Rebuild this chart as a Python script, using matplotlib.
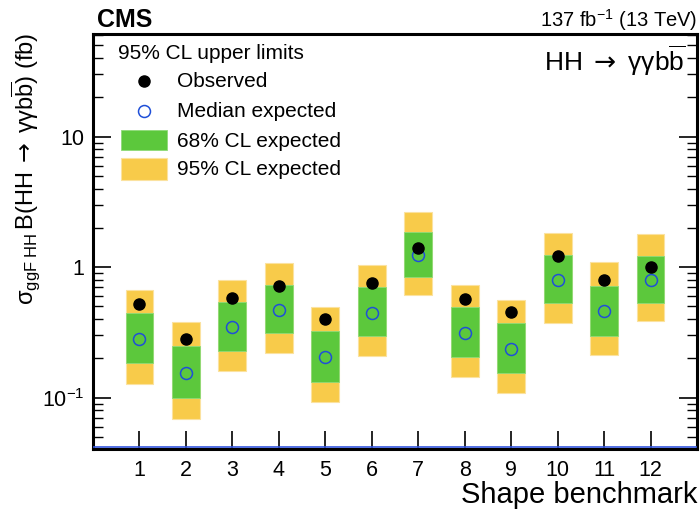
import matplotlib
matplotlib.use("Agg")
import matplotlib.pyplot as plt
from matplotlib.lines import Line2D
from matplotlib.patches import Rectangle
from matplotlib.ticker import FixedLocator, FixedFormatter, LogLocator, NullFormatter

plt.rcParams['font.family'] = ['Liberation Sans', 'DejaVu Sans']
plt.rcParams['mathtext.fontset'] = 'custom'
plt.rcParams['mathtext.rm'] = 'Liberation Sans'
plt.rcParams['mathtext.it'] = 'Liberation Sans:italic'
plt.rcParams['mathtext.bf'] = 'Liberation Sans:bold'
plt.rcParams['mathtext.sf'] = 'DejaVu Sans'

benchmarks = [1, 2, 3, 4, 5, 6, 7, 8, 9, 10, 11, 12]
observed = [0.523, 0.284, 0.581, 0.711, 0.403, 0.753, 1.39, 0.570, 0.451, 1.21, 0.794, 1.01]
expected = [0.281, 0.156, 0.347, 0.469, 0.206, 0.448, 1.24, 0.315, 0.238, 0.804, 0.461, 0.804]
exp_68_lo = [0.183, 0.0995, 0.227, 0.311, 0.133, 0.295, 0.838, 0.204, 0.154, 0.529, 0.298, 0.535]
exp_68_hi = [0.444, 0.251, 0.538, 0.727, 0.326, 0.702, 1.86, 0.492, 0.375, 1.24, 0.718, 1.22]
exp_95_lo = [0.128, 0.0686, 0.161, 0.221, 0.0932, 0.208, 0.609, 0.144, 0.109, 0.373, 0.212, 0.384]
exp_95_hi = [0.667, 0.382, 0.804, 1.07, 0.492, 1.04, 2.66, 0.736, 0.564, 1.84, 1.09, 1.79]

GREEN = '#5CC83C'
YELLOW = '#F8CB4A'
BLUE = '#1F4FD8'

W, H = 700, 517
fig = plt.figure(figsize=(7.0, 5.17), dpi=100)

def fx(x):
    return x / W

def fy(y):
    return 1 - y / H

ax = fig.add_axes([fx(93), fy(449), fx(697) - fx(93), fy(34) - fy(449)])
ax.set_yscale('log')
ax.set_xlim(0, 13)
ax.set_ylim(0.0405, 61)

ax.bar(benchmarks, [h - l for h, l in zip(exp_95_hi, exp_95_lo)], bottom=exp_95_lo,
       width=0.6, color=YELLOW, edgecolor='#FBE2A0', linewidth=0.8, zorder=2)
ax.bar(benchmarks, [h - l for h, l in zip(exp_68_hi, exp_68_lo)], bottom=exp_68_lo,
       width=0.6, color=GREEN, edgecolor='#8FDA78', linewidth=0.6, zorder=3)
ax.plot(benchmarks, expected, linestyle='none', marker='o', markersize=8.6,
        markerfacecolor='none', markeredgecolor=BLUE, markeredgewidth=1.1, zorder=4)
ax.plot(benchmarks, observed, linestyle='none', marker='o', markersize=8.0,
        color='black', zorder=5)

ax.axhline(0.0418, color='#3355DD', linewidth=1.2, zorder=6)

ax.xaxis.set_major_locator(FixedLocator(benchmarks))
ax.set_xticklabels([str(b) for b in benchmarks])
ax.yaxis.set_major_locator(FixedLocator([0.1, 1, 10]))
ax.yaxis.set_major_formatter(FixedFormatter([r'$10^{-1}$', '1', '10']))
ax.yaxis.set_minor_locator(LogLocator(base=10, subs=range(2, 10), numticks=20))
ax.yaxis.set_minor_formatter(NullFormatter())

ax.tick_params(axis='x', which='major', direction='in', length=13, width=1.2,
               labelsize=15.5, pad=8, top=False)
ax.tick_params(axis='x', which='minor', bottom=False, top=False)
ax.tick_params(axis='y', which='major', direction='in', length=13, width=1.2,
               labelsize=15.5, left=True, right=True, pad=6)
ax.tick_params(axis='y', which='minor', direction='in', length=7, width=1.0,
               left=True, right=True)
for s in ax.spines.values():
    s.set_linewidth(2.2)

# axis labels
fig.text(fx(697), fy(503), 'Shape benchmark', ha='right', va='baseline', fontsize=21)
fig.text(fx(26), fy(33),
         r'$\mathrm{\sigma}_{\mathrm{ggF\ HH}}\,\mathrm{B(HH}\;\mathsf{\rightarrow}\;\mathrm{\gamma\gamma b\overline{b})\ (fb)}$',
         ha='center', va='top', rotation=90, fontsize=17)

# header texts
fig.text(fx(97), fy(27), 'CMS', ha='left', va='baseline', fontsize=18, fontweight='bold')
fig.text(fx(697), fy(27), r'137 fb$^{-1}$ (13 TeV)', ha='right', va='baseline', fontsize=14.5)
fig.text(fx(685), fy(70.5), r'HH $\mathsf{\rightarrow}$ γγb$\overline{\mathrm{b}}$',
         ha='right', va='baseline', fontsize=19)

# legend
LFS = 15
fig.text(fx(118), fy(59), '95% CL upper limits', ha='left', va='baseline', fontsize=LFS)
fig.text(fx(177), fy(87), 'Observed', ha='left', va='baseline', fontsize=LFS)
fig.text(fx(177), fy(117), 'Median expected', ha='left', va='baseline', fontsize=LFS)
fig.text(fx(177), fy(147), '68% CL expected', ha='left', va='baseline', fontsize=LFS)
fig.text(fx(177), fy(175), '95% CL expected', ha='left', va='baseline', fontsize=LFS)
fig.add_artist(Line2D([fx(144)], [fy(81)], marker='o', markersize=8.0, color='black',
                      linestyle='none', transform=fig.transFigure))
fig.add_artist(Line2D([fx(144)], [fy(111)], marker='o', markersize=8.6, markerfacecolor='none',
                      markeredgecolor=BLUE, markeredgewidth=1.1, linestyle='none',
                      transform=fig.transFigure))
fig.add_artist(Rectangle((fx(121), fy(150)), fx(167) - fx(121), fy(130) - fy(150),
                         facecolor=GREEN, edgecolor='#8FDA78', linewidth=0.6,
                         transform=fig.transFigure))
fig.add_artist(Rectangle((fx(121), fy(180)), fx(167) - fx(121), fy(158) - fy(180),
                         facecolor=YELLOW, edgecolor='#FBE2A0', linewidth=0.8,
                         transform=fig.transFigure))

fig.savefig('out.png', dpi=100)
